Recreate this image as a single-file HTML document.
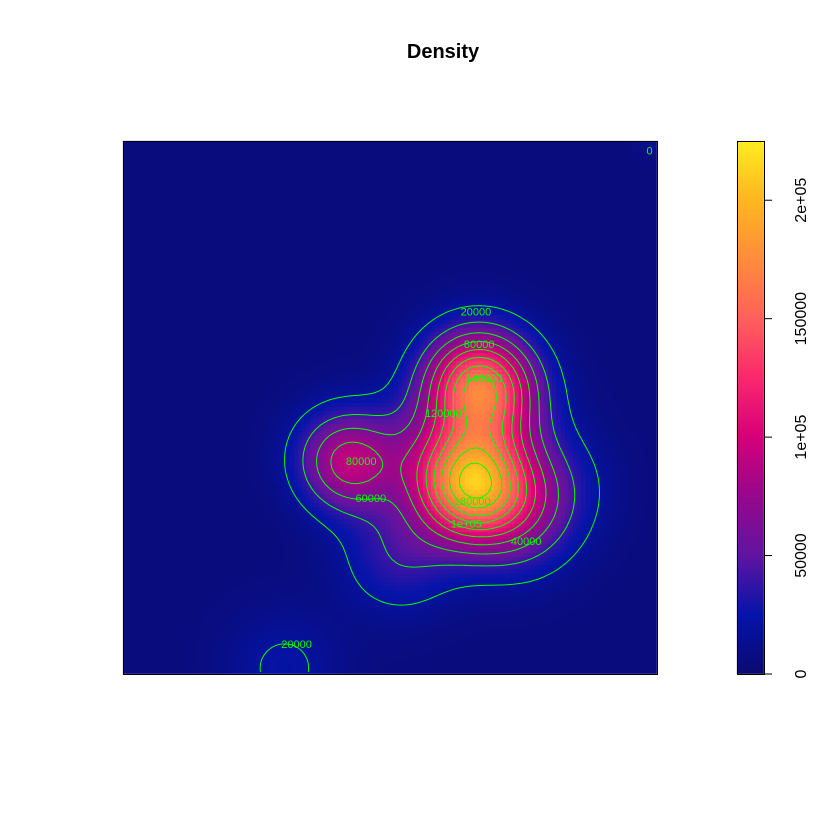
<!DOCTYPE html>
<html><head><meta charset="utf-8"><style>
body{margin:0;background:#fff;width:840px;height:840px;overflow:hidden;font-family:"Liberation Sans",sans-serif}
#wrap{position:relative;width:840px;height:840px}
canvas{position:absolute;left:0;top:0}
svg{position:absolute;left:0;top:0}
</style></head><body>
<div id="wrap">
<canvas id="cv" width="840" height="840"></canvas>
<svg id="sv" width="840" height="840"></svg>
</div>
<script>
// kernel centres (data units 0..1 across the plot window, y from top), amplitudes, bandwidths
const kernelX = [0.653, 0.665, 0.425, 0.537, 0.742, 0.519, 0.800, 0.302, 0.989, 0.705, 0.400];
const kernelY = [0.642, 0.458, 0.608, 0.575, 0.711, 0.777, 0.640, 0.989, 0.002, 0.505, 0.580];
const kernelAmp = [180000, 140000, 66000, 20000, 40000, 32000, 22000, 18000, 9000, 25000, 18000];
const kernelSigma = [0.072, 0.07, 0.062, 0.07, 0.075, 0.075, 0.075, 0.075, 0.02, 0.07, 0.065];
const background = 5000;
const contourLevels = [20000,40000,60000,80000,100000,120000,140000,160000,180000,200000,220000];
const barTicks = [0, 50000, 100000, 150000, 200000];
const barTickLabels = ["0", "50000", "1e+05", "150000", "2e+05"];
const zMax = 225000;
const contourLabelText = ["20000","80000","140000","120000","80000","60000","180000","1e+05","40000","20000","0"];
const contourLabelX = [0.661,0.667,0.676,0.600,0.446,0.464,0.654,0.643,0.755,0.325,0.986];
const contourLabelY = [0.320,0.381,0.445,0.510,0.600,0.670,0.675,0.718,0.750,0.944,0.018];

const L=123,T=141,W=534,H=533,N=128;
const BX=737,BW=27;
const stops=[[0,[10,10,112]],[25000,[5,20,170]],[50000,[96,20,160]],[75000,[150,8,140]],[100000,[214,0,122]],[125000,[250,40,110]],[150000,[255,96,90]],[175000,[255,140,60]],[200000,[255,182,32]],[225000,[255,236,32]]];
function col(v){
  if(v<=0)return stops[0][1];
  for(let i=1;i<stops.length;i++){if(v<=stops[i][0]){const a=stops[i-1],b=stops[i],t=(v-a[0])/(b[0]-a[0]);return a[1].map((c,k)=>Math.round(c+(b[1][k]-c)*t));}}
  return stops[stops.length-1][1];
}
function dens(x,y){let s=background;for(let i=0;i<kernelX.length;i++){const dx=x-kernelX[i],dy=y-kernelY[i];s+=kernelAmp[i]*Math.exp(-(dx*dx+dy*dy)/(2*kernelSigma[i]*kernelSigma[i]));}return s;}
const sx=u=>L+u*W, sy=v=>T+v*H, yBar=z=>T+H-(z/zMax)*H;
const grid=[];
for(let j=0;j<N;j++){grid.push([]);for(let i=0;i<N;i++)grid[j].push(dens((i+0.5)/N,(j+0.5)/N));}
const ctx=document.getElementById('cv').getContext('2d');
for(let j=0;j<N;j++)for(let i=0;i<N;i++){const c=col(grid[j][i]);ctx.fillStyle=`rgb(${c[0]},${c[1]},${c[2]})`;const x0=Math.floor(sx(i/N)),x1=Math.ceil(sx((i+1)/N)),y0=Math.floor(sy(j/N)),y1=Math.ceil(sy((j+1)/N));ctx.fillRect(x0,y0,x1-x0,y1-y0);}
// colour bar
for(let p=0;p<H;p++){const z=(H-p-0.5)/H*zMax;const c=col(z);ctx.fillStyle=`rgb(${c[0]},${c[1]},${c[2]})`;ctx.fillRect(BX,T+p,BW,1);}
const NS='http://www.w3.org/2000/svg',sv=document.getElementById('sv');
function mk(t,a,p){const e=document.createElementNS(NS,t);for(const k in a)e.setAttribute(k,a[k]);(p||sv).appendChild(e);return e;}
// contours (marching squares on cell centres)
const cg=mk('g',{});


contourLevels.forEach(lev=>{
  let d='';
  const P=(i,j)=>[sx((i+0.5)/N),sy((j+0.5)/N)];
  for(let j=0;j<N-1;j++)for(let i=0;i<N-1;i++){
    const v=[grid[j][i],grid[j][i+1],grid[j+1][i+1],grid[j+1][i]];
    const c=[[i,j],[i+1,j],[i+1,j+1],[i,j+1]];
    const pts=[];
    for(let e=0;e<4;e++){const a=v[e],b=v[(e+1)%4];if((a<lev)!==(b<lev)){const t=(lev-a)/(b-a);const pa=P(...c[e]),pb=P(...c[(e+1)%4]);pts.push([pa[0]+(pb[0]-pa[0])*t,pa[1]+(pb[1]-pa[1])*t]);}}
    for(let k=0;k+1<pts.length;k+=2)d+=`M${pts[k][0].toFixed(1)},${pts[k][1].toFixed(1)}L${pts[k+1][0].toFixed(1)},${pts[k+1][1].toFixed(1)}`;
  }
  const p=mk('path',{d:d,stroke:'#00ff00','stroke-width':1,fill:'none'},cg);
  
  
});
contourLabelText.forEach((s,k)=>{
  const t=mk('text',{x:sx(contourLabelX[k]),y:sy(contourLabelY[k])+4,'font-size':11,fill:'#00ff00','text-anchor':'middle'});
  t.textContent=s;
  
  
});
const fr=mk('rect',{x:L+0.5,y:T+0.5,width:W,height:H,fill:'none',stroke:'#000'});


const bf=mk('rect',{x:BX+0.5,y:T+0.5,width:BW,height:H,fill:'none',stroke:'#000'});


barTicks.forEach((z,k)=>{
  const y=yBar(z);
  const l=mk('line',{x1:BX+BW,x2:BX+BW+8,y1:y,y2:y,stroke:'#000'});
  
  
  const t=mk('text',{x:0,y:0,'font-size':16,'text-anchor':'middle',transform:`translate(806,${y}) rotate(-90)`});
  t.textContent=barTickLabels[k];
  
  
});
const ti=mk('text',{x:443,y:58,'font-size':20,'font-weight':'bold','text-anchor':'middle'});
ti.textContent='Density';


</script>
</body></html>
